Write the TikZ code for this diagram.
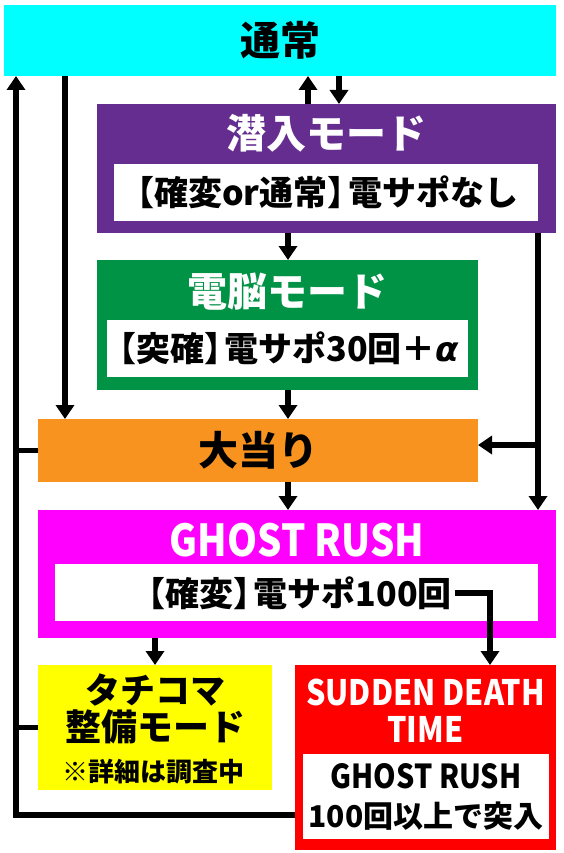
\documentclass[tikz,border=0pt]{standalone}
\usepackage{fontspec}
\setmainfont{Noto Sans CJK JP Black}
\newfontfamily\cond{Noto Sans CJK JP Black}[FakeStretch=0.87]
\newfontfamily\grk{DejaVu Sans Bold Oblique}
\usetikzlibrary{arrows.meta}
\definecolor{tsujocol}{HTML}{00FFFF}
\definecolor{sennyucol}{HTML}{662D91}
\definecolor{dennoucol}{HTML}{009245}
\definecolor{oataricol}{HTML}{F7931E}
\definecolor{ghostcol}{HTML}{FF00FF}
\definecolor{tachicol}{HTML}{FFFF00}
\definecolor{suddencol}{HTML}{FF0000}
\newcommand{\lbr}{\hspace{-.4em}【}
\newcommand{\rbr}{】\hspace{-.4em}}
\begin{document}
\begin{tikzpicture}[x=1pt,y=-1pt,>={Triangle[width=18pt,length=14pt]},
    box/.style={inner sep=0pt,outer sep=0pt},
    wbox/.style={box,fill=white},
    ttl/.style={font=\fontsize{40}{44}\selectfont},
    sub/.style={font=\fontsize{34}{38}\selectfont},
    link/.style={line width=5.5pt}]
    \useasboundingbox (0,0) rectangle (564,853);
    % boxes
    \node[box,ttl,fill=tsujocol,minimum width=552,minimum height=71] (tsujo) at (280,40.5) {通常};
    \node[box,fill=sennyucol,minimum width=459,minimum height=129] (sennyu) at (326.5,168.5) {};
    \node[ttl,text=white] (sennyut) at (326.5,133) {潜入モード};
    \node[wbox,sub,minimum width=424,minimum height=57] (sennyus) at (326,192.5) {\lbr 確変or通常\rbr 電サポなし};
    \node[box,fill=dennoucol,minimum width=381,minimum height=130] (dennou) at (287.5,325) {};
    \node[ttl,text=white] (dennout) at (287.5,292) {電脳モード};
    \node[wbox,sub,minimum width=361,minimum height=57] (dennous) at (287.5,348.5) {\lbr 突確\rbr 電サポ30回＋{\grk α}};
    \node[box,ttl,fill=oataricol,minimum width=440,minimum height=63] (oatari) at (258,450.5) {大当り};
    \node[box,fill=ghostcol,minimum width=518,minimum height=128] (ghost) at (297,574) {};
    \node[font=\cond\fontsize{44}{46}\selectfont,text=white] (ghostt) at (297,540) {GHOST RUSH};
    \node[wbox,minimum width=483,minimum height=57] (ghosts) at (296.5,592.5) {};
    \node[sub,inner sep=3pt] (ghostinfo) at (298.5,593) {\lbr 確変\rbr 電サポ100回};
    \node[box,fill=tachicol,minimum width=234,minimum height=125] (tachi) at (155,727.5) {};
    \node[font=\fontsize{35}{38}\selectfont] at (155,690) {タチコマ};
    \node[font=\fontsize{36}{38}\selectfont] at (155,727) {整備モード};
    \node[font=\fontsize{26}{28}\selectfont] at (153,772) {※詳細は調査中};
    \node[box,fill=suddencol,minimum width=261,minimum height=185] (sudden) at (425.5,757.5) {};
    \node[font=\cond\fontsize{35}{37}\selectfont,text=white,align=center] (suddent) at (425.5,711) {SUDDEN DEATH\\TIME};
    \node[wbox,align=center,font=\fontsize{30}{39}\selectfont,minimum width=246,minimum height=85] (suddens) at (426,796.5) {{\cond\fontsize{33}{39}\selectfont GHOST RUSH}\\100回以上で突入};
    % connectors
    \coordinate (up) at (308,0);
    \coordinate (dn) at (339,0);
    \coordinate (mid) at (288,0);
    \coordinate (lft) at (65,0);
    \coordinate (tc) at (155,0);
    \coordinate (sd) at (490,0);
    \coordinate (rgt) at (538,445);
    \coordinate (ret) at (16,815);
    \draw[link,->] (sennyu.north -| up) -- (tsujo.south -| up);
    \draw[link,->] (tsujo.south -| dn) -- (sennyu.north -| dn);
    \draw[link,->] (sennyu.south -| mid) -- (dennou.north -| mid);
    \draw[link,->] (dennou.south -| mid) -- (oatari.north -| mid);
    \draw[link,->] (oatari.south -| mid) -- (ghost.north -| mid);
    \draw[link,->] (tsujo.south -| lft) -- (oatari.north -| lft);
    \draw[link,->] (sennyu.south -| rgt) -- (ghost.north -| rgt);
    \draw[link,->] (rgt) -- (rgt -| oatari.east);
    \draw[link,->] (ghostinfo.east) -| (sudden.north -| sd);
    \draw[link,->] (ghost.south -| tc) -- (tachi.north -| tc);
    \draw[link,->] (sudden.west |- ret) -- (ret) -- (ret |- tsujo.south);
    \draw[link] (oatari.west) -- (oatari.west -| ret);
    \draw[link] (tachi.west) -- (tachi.west -| ret);
\end{tikzpicture}
\end{document}
